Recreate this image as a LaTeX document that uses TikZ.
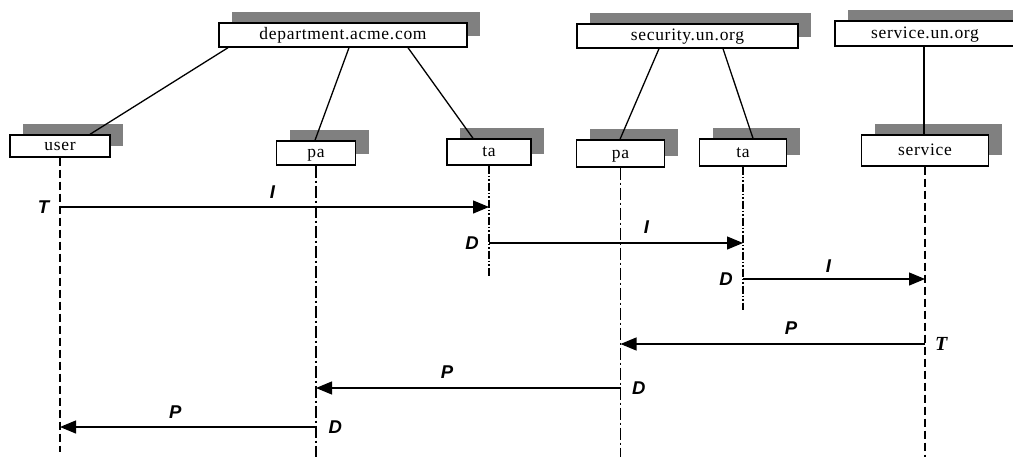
\documentclass[tikz,border=0pt]{standalone}
\usepackage{fontspec}
\setmainfont{Liberation Serif}
\newfontfamily\boxfont[LetterSpace=4]{Liberation Serif}
\newfontfamily\labfont{Liberation Sans}
\usetikzlibrary{shadows,arrows.meta}
\begin{document}
\begin{tikzpicture}[x=1pt,y=-1pt,
  box/.style={draw, line width=1.4pt, fill=white, inner sep=0pt,
    text height=12pt, text depth=3pt,
    font=\boxfont\fontsize{17.5}{19}\selectfont,
    drop shadow={shadow xshift=13pt, shadow yshift=11.5pt, fill=gray, opacity=1}},
  link/.style={line width=1.3pt},
  lifedash/.style={line width=1.3pt, dash pattern=on 8pt off 4pt},
  lifedot/.style={line width=1.3pt, dash pattern=on 12pt off 3pt on 2pt off 3pt},
  lifedotdot/.style={line width=1.3pt, dash pattern=on 8pt off 2pt on 1.5pt off 2pt on 1.5pt off 2pt},
  msg/.style={line width=1.2pt, -{Triangle[length=16pt,width=13pt]}},
  lbl/.style={font=\labfont\bfseries\itshape\fontsize{18.5}{20}\selectfont, inner sep=0pt},
  tlbl/.style={font=\rmfamily\bfseries\itshape\fontsize{20}{22}\selectfont, inner sep=0pt}
]
\useasboundingbox (0,0) rectangle (1013,456);

% boxes
\node[box, minimum width=248pt, minimum height=24pt] (dep) at (343,35) {department.acme.com};
\node[box, minimum width=100pt, minimum height=22pt] (user) at (60,146) {user};
\node[box, minimum width=79pt, minimum height=24pt] (paL) at (316,153) {pa};
\node[box, minimum width=84pt, minimum height=26pt] (taL) at (489,152) {ta};
\node[box, minimum width=221pt, minimum height=24pt] (secu) at (687.5,36) {security.un.org};
\node[box, minimum width=180pt, minimum height=25pt] (svcorg) at (925,33.5) {service.un.org};
\node[box, minimum width=88pt, minimum height=27pt] (paR) at (620.5,153.5) {pa};
\node[box, minimum width=87pt, minimum height=27pt] (taR) at (743,152.5) {ta};
\node[box, minimum width=127pt, minimum height=31pt] (svc) at (925,150.5) {service};

% links
\draw[link] (dep.south -| 228,0) -- (user.north -| 90,0);
\draw[link] (dep.south -| 349,0) -- (paL.north -| 315,0);
\draw[link] (dep.south -| 408,0) -- (taL.north -| 473,0);
\draw[link] (secu.south -| 659,0) -- (paR.north -| 620,0);
\draw[link] (secu.south -| 723,0) -- (taR.north -| 753,0);
\draw[link] (svcorg.south -| 924,0) -- (svc.north -| 924,0);

% lifeline ends
\coordinate (userE) at (user.south |- 0,452);
\coordinate (paLE) at (paL.south |- 0,457);
\coordinate (taLE) at (taL.south |- 0,277);
\coordinate (paRE) at (paR.south |- 0,457);
\coordinate (taRE) at (taR.south |- 0,310);
\coordinate (svcE) at (svc.south |- 0,457);

\draw[lifedash] (user.south) -- (userE);
\draw[lifedot] (paL.south) -- (paLE);
\draw[lifedotdot] (taL.south) -- (taLE);
\draw[lifedot] (paR.south) -- (paRE);
\draw[lifedotdot] (taR.south) -- (taRE);
\draw[lifedash] (svc.south) -- (svcE);

% messages
\draw[msg] (user.south |- 0,207) -- node[lbl, pos=0.495, above=7.5pt] (l1) {I} (taL.south |- 0,207);
\node[lbl, left=10.5pt] (t1) at (user.south |- 0,207) {T};

\draw[msg] (taL.south |- 0,243) -- node[lbl, pos=0.62, above=8.5pt] (l2) {I} (taR.south |- 0,243);
\node[lbl, left=10pt] (d2) at (taL.south |- 0,243) {D};

\draw[msg] (taR.south |- 0,279) -- node[lbl, pos=0.47, above=5.5pt] (l3) {I} (svc.south |- 0,279);
\node[lbl, left=10pt] (d3) at (taR.south |- 0,279) {D};

\draw[msg] (svc.south |- 0,344) -- node[lbl, pos=0.44, above=8.5pt] (l4) {P} (paR.south |- 0,344);
\node[tlbl, right=10pt] (t4) at (svc.south |- 0,344) {T};

\draw[msg] (paR.south |- 0,388) -- node[lbl, pos=0.57, above=8.5pt] (l5) {P} (paL.south |- 0,388);
\node[lbl, right=11.5pt] (d5) at (paR.south |- 0,388) {D};

\draw[msg] (paL.south |- 0,427) -- node[lbl, pos=0.55, above=7.5pt] (l6) {P} (user.south |- 0,427);
\node[lbl, right=12.5pt] (d6) at (paL.south |- 0,427) {D};
\end{tikzpicture}
\end{document}
